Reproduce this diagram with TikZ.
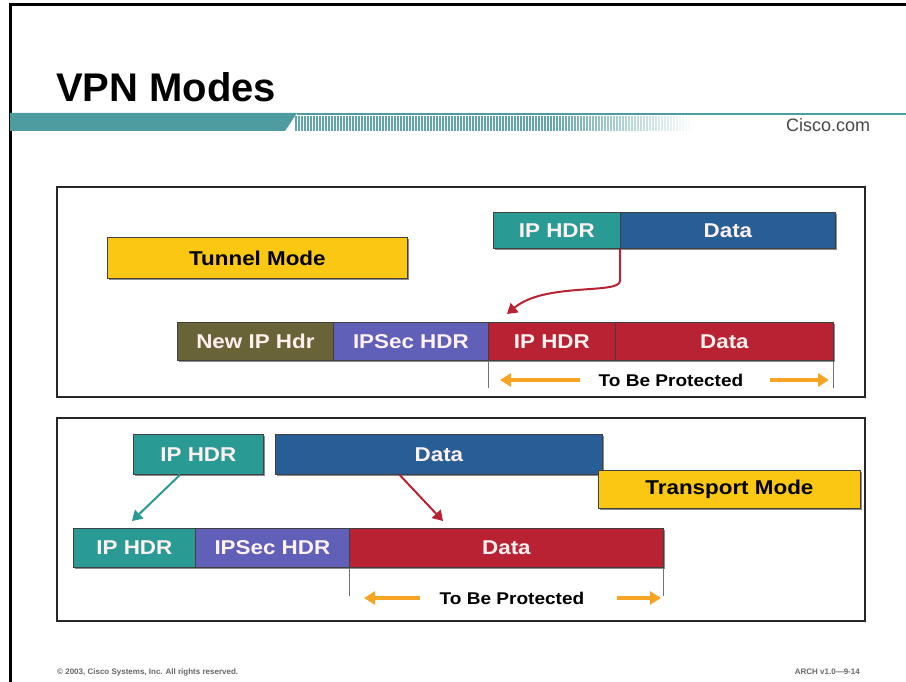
\documentclass[tikz,border=0pt]{standalone}
\usepackage{fontspec}
\setmainfont{Liberation Sans}
\newfontfamily\widef[FakeStretch=1.12]{Liberation Sans}
\usetikzlibrary{arrows.meta,calc,shadows}
\definecolor{cteal}{RGB}{42,154,148}
\definecolor{cblue}{RGB}{40,94,150}
\definecolor{colive}{RGB}{104,100,56}
\definecolor{cpurple}{RGB}{96,96,184}
\definecolor{cred}{RGB}{184,34,50}
\definecolor{cyellow}{RGB}{250,200,18}
\definecolor{corange}{RGB}{245,165,35}
\definecolor{cband}{RGB}{78,155,160}
\tikzset{
  pkt/.style={draw=black!75, line width=0.8pt, inner sep=0pt, anchor=north west,
    font=\widef\bfseries\fontsize{20}{22}\selectfont, text=white!94!red,
    drop shadow={shadow xshift=1.3pt, shadow yshift=-1.3pt, opacity=0.45, fill=black}},
  modebox/.style={pkt, fill=cyellow, text=black},
  panel/.style={draw=black!85, line width=2pt},
  prot/.style={font=\widef\bfseries\fontsize{17}{19}\selectfont, text=black},
  oarrow/.style={corange, line width=3.5pt, -{Triangle[length=11pt,width=13pt]}},
  rarrow/.style={cred, line width=2pt, -{Triangle[length=10pt,width=12pt]}},
  tarrow/.style={cteal, line width=2pt, -{Triangle[length=10pt,width=12pt]}},
  tickline/.style={draw=black!55, line width=0.9pt},
}
\begin{document}
\begin{tikzpicture}[x=1pt,y=-1pt]
\useasboundingbox (0,0) rectangle (906,682);
% page frame
\draw[line width=3pt] (10,682) -- (10,5) -- (906,5);
% title
\node[anchor=base west, inner sep=0pt, font=\bfseries\fontsize{40}{42}\selectfont] (title) at (56,102) {VPN Modes};
% band
\fill[cband] (10,113) -- (297,113) -- (285,131) -- (10,131) -- cycle;
\fill[cband] (297,113) rectangle (906,115.5);
\foreach \i in {0,...,133} {
  \pgfmathsetmacro{\xx}{296+3*\i}
  \pgfmathsetmacro{\op}{\i<85 ? 0.9 : 0.9*(133-\i)/48}
  \draw[cband, opacity=\op, line width=1.2pt] (\xx,116) -- (\xx,131);
}
\node[anchor=base west, inner sep=0pt, text=black!72, font=\fontsize{18}{20}\selectfont] (cisco) at (786,132) {Cisco.com};

% ---------- tunnel mode panel ----------
\draw[panel] (57,187) rectangle (865,397);
\node[modebox, minimum width=300pt, minimum height=41pt] (tmode) at (107,237) {Tunnel Mode};
\node[pkt, fill=cteal, minimum width=127pt, minimum height=36pt] (tIP) at (493,212) {IP HDR};
\node[pkt, fill=cblue, minimum width=215pt, minimum height=36pt] (tData) at (620,212) {Data};

\node[pkt, fill=colive, minimum width=156pt, minimum height=38pt] (tNew) at (177,322) {New IP Hdr};
\node[pkt, fill=cpurple, minimum width=155pt, minimum height=38pt] (tSec) at (333,322) {IPSec HDR};
\node[pkt, fill=cred, minimum width=127pt, minimum height=38pt] (tIP2) at (488,322) {IP HDR};
\node[pkt, fill=cred, minimum width=218pt, minimum height=38pt] (tData2) at (615,322) {Data};

\coordinate (ttip) at (507,314);
\draw[rarrow] (tData.south west) -- ++(0,32) .. controls ++(0,14) and (545,282) .. (ttip);

\draw[tickline] (tIP2.south west) -- ++(0,27);
\draw[tickline] (tData2.south east) -- ++(0,27);
\node[prot] (prot1) at (671,380) {To Be Protected};
\coordinate (pa1) at (580,380);
\coordinate (pb1) at (500,380);
\coordinate (pc1) at (770,380);
\coordinate (pd1) at (829,380);
\draw[oarrow] (pa1) -- (pb1);
\draw[oarrow] (pc1) -- (pd1);

% ---------- transport mode panel ----------
\draw[panel] (57,418) rectangle (865,621);
\node[pkt, fill=cteal, minimum width=130pt, minimum height=40pt] (bIP) at (133,434) {IP HDR};
\node[pkt, fill=cblue, minimum width=327pt, minimum height=40pt] (bData) at (275,434) {Data};
\node[modebox, minimum width=262pt, minimum height=38pt] (pmode) at (598,470) {Transport Mode};

\node[pkt, fill=cteal, minimum width=122pt, minimum height=39pt] (bIP2) at (73,528) {IP HDR};
\node[pkt, fill=cpurple, minimum width=154pt, minimum height=39pt] (bSec) at (195,528) {IPSec HDR};
\node[pkt, fill=cred, minimum width=314pt, minimum height=39pt] (bData2) at (349,528) {Data};

\coordinate (btip1) at (132,521);
\coordinate (btip2) at (443,521);
\draw[tarrow] ($(bIP.south west)!0.36!(bIP.south east)$) -- (btip1);
\draw[rarrow] ($(bData.south west)!0.38!(bData.south east)$) -- (btip2);

\draw[tickline] (bSec.south east) -- ++(0,28);
\draw[tickline] (bData2.south east) -- ++(0,28);
\node[prot] (prot2) at (512,598) {To Be Protected};
\coordinate (pa2) at (420,598);
\coordinate (pb2) at (364,598);
\coordinate (pc2) at (617,598);
\coordinate (pd2) at (661,598);
\draw[oarrow] (pa2) -- (pb2);
\draw[oarrow] (pc2) -- (pd2);

% footer
\node[anchor=base west, inner sep=0pt, text=black!60, font=\bfseries\fontsize{8}{9}\selectfont] (copy) at (57,674) {\textcopyright\ 2003, Cisco Systems, Inc. All rights reserved.};
\node[anchor=base east, inner sep=0pt, text=black!60, font=\bfseries\fontsize{8}{9}\selectfont] (arch) at (860,674) {ARCH v1.0---9-14};
\end{tikzpicture}
\end{document}
